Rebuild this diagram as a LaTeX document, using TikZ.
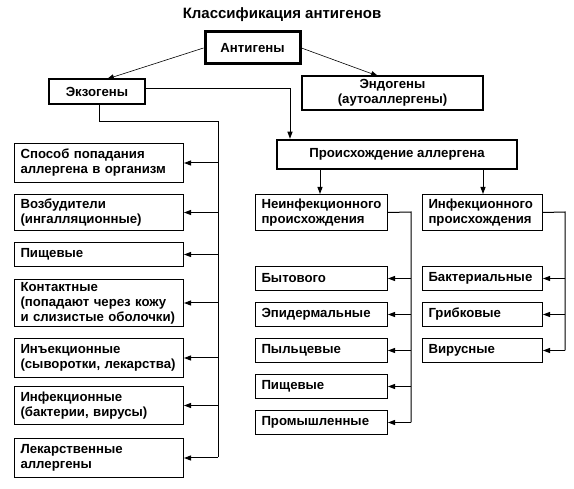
\documentclass[tikz,border=0pt]{standalone}
\usepackage{fontspec}
\setmainfont{Liberation Sans}
\usetikzlibrary{arrows.meta}
\begin{document}
\begin{tikzpicture}[x=1pt,y=-1pt,
  txt/.style={font=\fontsize{13.2}{15}\selectfont\bfseries},
  cbox/.style={txt,draw,align=center,inner sep=0pt},
  sbox/.style={txt,draw,line width=1pt,anchor=north west,align=left,inner xsep=6pt,inner ysep=0pt},
  lw/.style={sbox,minimum width=169pt,text width=157pt},
  rw/.style={sbox,minimum width=132pt,text width=120pt},
  iw/.style={sbox,minimum width=120pt,text width=108pt},
  conn/.style={line width=1pt},
  arr/.style={conn,-{Triangle[length=7pt,width=5pt]}},
  darr/.style={line width=0.6pt,-{Triangle[length=7pt,width=5pt]}}
]
\useasboundingbox (0,0) rectangle (574,489);
\node[txt,font=\fontsize{15}{16}\selectfont\bfseries] (title) at (282,15) {Классификация антигенов};
\node[cbox,line width=3pt,minimum width=95pt,minimum height=32pt] (ag) at (252.5,48) {Антигены};
\node[cbox,line width=2pt,minimum width=96pt,minimum height=25pt] (exo) at (97,91.5) {Экзогены};
\node[cbox,line width=2pt,minimum width=181pt,minimum height=34pt] (endo) at (392.5,93) {Эндогены\\(аутоаллергены)};
\node[cbox,line width=2.5pt,minimum width=240pt,minimum height=29pt] (orig) at (397,154.5) {Происхождение аллергена};

% left column
\node[lw,minimum height=39pt] (l1) at (14,143) {Способ попадания\\\mbox{аллергена в организм}};
\node[lw,minimum height=36pt] (l2) at (14,194) {Возбудители\\(ингалляционные)};
\node[lw,minimum height=24pt] (l3) at (14,242) {Пищевые};
\node[lw,minimum height=47pt] (l4) at (14,279) {Контактные\\\mbox{(попадают через кожу}\\\mbox{и слизистые оболочки)}};
\node[lw,minimum height=39pt] (l5) at (14,338) {Инъекционные\\\mbox{(сыворотки, лекарства)}};
\node[lw,minimum height=38pt] (l6) at (14,386) {Инфекционные\\\mbox{(бактерии, вирусы)}};
\node[lw,minimum height=39pt] (l7) at (14,438) {Лекарственные\\аллергены};

% middle column
\node[rw,minimum height=36pt] (ni) at (255,194) {Неинфекционного\\происхождения};
\node[rw,minimum height=24pt] (n1) at (255,266) {Бытового};
\node[rw,minimum height=24pt] (n2) at (255,302) {Эпидермальные};
\node[rw,minimum height=24pt] (n3) at (255,338) {Пыльцевые};
\node[rw,minimum height=24pt] (n4) at (255,374) {Пищевые};
\node[rw,minimum height=24pt] (n5) at (255,410) {Промышленные};

% right column
\node[iw,minimum height=36pt] (inf) at (422,194) {Инфекционного\\происхождения};
\node[iw,minimum height=24pt] (i1) at (422,266) {Бактериальные};
\node[iw,minimum height=24pt] (i2) at (422,302) {Грибковые};
\node[iw,minimum height=24pt] (i3) at (422,338) {Вирусные};

% top arrows
\coordinate (exotop) at (107,79);
\coordinate (endotop) at (378,76);
\draw[darr] (ag.west) -- (exotop);
\draw[darr] (ag.east) -- (endotop);

% exo -> origin
\coordinate (corner) at (290,89);
\draw[arr] (exo.east |- corner) -- (corner) -- (corner |- orig.north);

% exo -> left bus
\coordinate (exob) at (99,104);
\coordinate (bustop) at (218,122);
\coordinate (busend) at (218,457);
\draw[conn] (exob) |- (bustop) -- (busend);
\foreach \n in {l1,l2,l3,l4,l5,l6,l7}{
  \draw[arr] (\n.east -| bustop) -- (\n.east);
}

% origin -> two branches
\coordinate (ob1) at (320,169);
\coordinate (ob2) at (483,169);
\draw[arr] (ob1) -- (ob1 |- ni.north);
\draw[arr] (ob2) -- (ob2 |- inf.north);

% middle bus
\coordinate (bus2) at (411,212);
\draw[conn] (ni.east) -- (bus2) -- (bus2 |- n5.east);
\foreach \n in {n1,n2,n3,n4,n5}{
  \draw[arr] (\n.east -| bus2) -- (\n.east);
}

% right bus
\coordinate (bus3) at (565,212);
\draw[conn] (inf.east) -- (bus3) -- (bus3 |- i3.east);
\foreach \n in {i1,i2,i3}{
  \draw[arr] (\n.east -| bus3) -- (\n.east);
}
\end{tikzpicture}
\end{document}
